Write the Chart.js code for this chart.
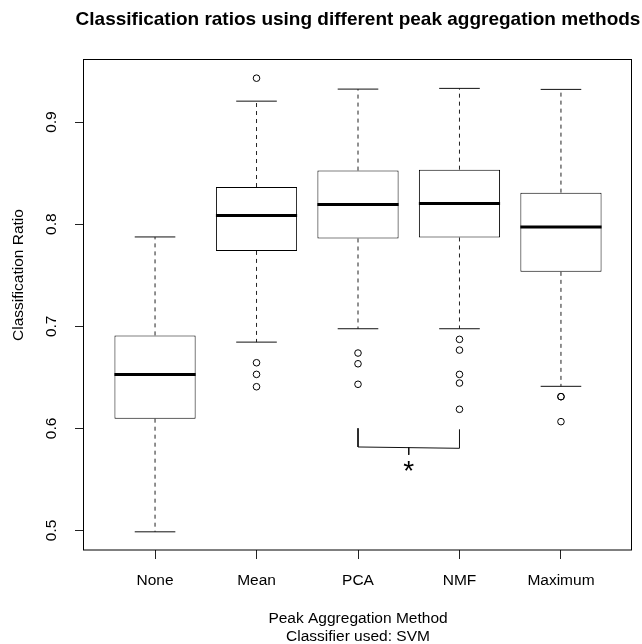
<!DOCTYPE html>
<html>
<head>
<meta charset="utf-8">
<title>Classification ratios</title>
<script src="https://cdn.jsdelivr.net/npm/chart.js@4.4.1/dist/chart.umd.min.js"></script>
<style>
  html, body { margin: 0; padding: 0; background: #fff; }
  #wrap { width: 642px; height: 644px; }
</style>
</head>
<body>
<div id="wrap"><canvas id="chart-ratio" width="642" height="644"></canvas></div>
<script>
  "use strict";

  // 5 aggregation methods, boxplot statistics per method
  var methods     = ['None', 'Mean', 'PCA', 'NMF', 'Maximum'];
  var whiskerLow  = [0.4987, 0.6845, 0.6976, 0.6976, 0.6412];
  var quartile1   = [0.6095, 0.7738, 0.7860, 0.7870, 0.7533];
  var medians     = [0.6529, 0.8085, 0.8192, 0.8202, 0.7973];
  var quartile3   = [0.6911, 0.8364, 0.8525, 0.8534, 0.8309];
  var whiskerHigh = [0.7875, 0.9205, 0.9323, 0.9330, 0.9320];
  var outliers = [
    [],
    [0.9430, 0.6643, 0.6529, 0.6408],
    [0.6738, 0.6633, 0.6432],
    [0.6872, 0.6767, 0.6529, 0.6444, 0.6187],
    [0.6311, 0.6311, 0.6066]
  ];

  var yTicks = [0.5, 0.6, 0.7, 0.8, 0.9];
  var yRange = [0.4809, 0.9608];
  var xRange = [0.3, 5.7];

  // PCA vs NMF significance bracket
  var bracketX = [3, 3, 4, 4];
  var bracketY = [0.6001, 0.5818, 0.5805, 0.5991];
  var bracketTickX = [3.5, 3.5];
  var bracketTickY = [0.5816, 0.5741];
  var starAt = [3.5, 0.5658];

  var FONT = '"Liberation Sans", Arial, Helvetica, sans-serif';
  var FS = 15.5;

  function boxPoints(list) {
    return list.map(function(v, i) { return { x: i + 1, y: v }; });
  }

  var boxData = methods.map(function(m, i) {
    return { x: i + 1, y: [quartile1[i], quartile3[i]] };
  });

  // dashed whiskers, broken with null points between segments
  var whiskerData = [];
  methods.forEach(function(m, i) {
    whiskerData.push({ x: i + 1, y: quartile3[i] }, { x: i + 1, y: whiskerHigh[i] }, { x: i + 1, y: null });
    whiskerData.push({ x: i + 1, y: quartile1[i] }, { x: i + 1, y: whiskerLow[i] }, { x: i + 1, y: null });
  });

  var capData = boxPoints(whiskerLow).concat(boxPoints(whiskerHigh));

  var outlierData = [];
  outliers.forEach(function(list, i) {
    list.forEach(function(v) { outlierData.push({ x: i + 1, y: v }); });
  });

  var bracketData = bracketX.map(function(x, i) { return { x: x, y: bracketY[i] }; });
  bracketData.push({ x: bracketTickX[0], y: null });
  bracketTickX.forEach(function(x, i) { bracketData.push({ x: x, y: bracketTickY[i] }); });

  // frame, axis labels (R style), titles and the star
  var framePlugin = {
    id: 'frame',
    afterDraw: function(chart) {
      var ctx = chart.ctx;
      var a = chart.chartArea;
      var ys = chart.scales.y;
      var xs = chart.scales.x;
      ctx.save();
      ctx.strokeStyle = '#000';
      ctx.lineWidth = 1;
      ctx.strokeRect(a.left - 0.5, a.top - 0.5, a.right - a.left, a.bottom - a.top + 0.5);

      ctx.fillStyle = '#000';
      ctx.font = FS + 'px ' + FONT;
      ctx.textAlign = 'center';
      ctx.textBaseline = 'alphabetic';

      methods.forEach(function(m, i) {
        ctx.fillText(m, xs.getPixelForValue(i + 1), a.bottom + 35);
      });

      yTicks.forEach(function(v) {
        ctx.save();
        ctx.translate(a.left - 28.5, ys.getPixelForValue(v));
        ctx.rotate(-Math.PI / 2);
        ctx.fillText(v.toFixed(1), 0, 0);
        ctx.restore();
      });

      ctx.save();
      ctx.translate(22.5, 275);
      ctx.rotate(-Math.PI / 2);
      ctx.fillText('Classification Ratio', 0, 0);
      ctx.restore();

      ctx.font = 'bold 19px ' + FONT;
      ctx.fillText('Classification ratios using different peak aggregation methods', (a.left + a.right) / 2, 25);

      var starSize = 28;
      ctx.font = starSize + 'px ' + FONT;
      ctx.fillText('*', xs.getPixelForValue(starAt[0]), ys.getPixelForValue(starAt[1]) + 0.58 * starSize);
      ctx.restore();
    }
  };

  new Chart(document.getElementById('chart-ratio'), {
    type: 'bar',
    data: {
      datasets: [
        {
          type: 'scatter', data: boxPoints(medians),
          pointStyle: 'line', pointRadius: 40.6, pointBorderWidth: 3,
          borderColor: '#000', backgroundColor: '#000'
        },
        {
          type: 'scatter', data: capData,
          pointStyle: 'line', pointRadius: 20.3, pointBorderWidth: 1,
          borderColor: '#111', backgroundColor: '#111'
        },
        {
          type: 'scatter', data: outlierData,
          pointStyle: 'circle', pointRadius: 3.3, pointBorderWidth: 1,
          borderColor: '#000', backgroundColor: 'rgba(0,0,0,0)'
        },
        {
          type: 'line', data: whiskerData,
          borderColor: '#222', borderWidth: 1, borderDash: [4, 4],
          pointRadius: 0, spanGaps: false, fill: false
        },
        {
          type: 'line', data: bracketData,
          borderColor: '#111', borderWidth: 1,
          pointRadius: 0, spanGaps: false, fill: false
        },
        {
          type: 'bar', data: boxData,
          backgroundColor: '#fff', borderColor: '#000', borderWidth: 1,
          borderSkipped: false, categoryPercentage: 1, barPercentage: 0.8
        }
      ]
    },
    options: {
      responsive: false,
      animation: false,
      devicePixelRatio: 1,
      events: [],
      layout: { autoPadding: false, padding: { top: 60, right: 10, left: 0, bottom: 0 } },
      plugins: {
        legend: { display: false },
        tooltip: { enabled: false },
        title: { display: false }
      },
      scales: {
        x: {
          type: 'linear',
          min: xRange[0], max: xRange[1],
          offset: false,
          afterBuildTicks: function(scale) {
            scale.ticks = methods.map(function(m, i) { return { value: i + 1 }; });
          },
          afterFit: function(scale) { scale.height = 94; },
          grid: { display: true, offset: false, drawOnChartArea: false, drawTicks: true, tickLength: 9, color: '#222', lineWidth: 1 },
          border: { display: false },
          ticks: { display: false },
          title: {
            display: true,
            text: ['Peak Aggregation Method', 'Classifier used: SVM'],
            color: '#000',
            font: { family: FONT, size: FS, lineHeight: 1.2 },
            padding: { top: 0, bottom: -2.4 }
          }
        },
        y: {
          type: 'linear',
          min: yRange[0], max: yRange[1],
          afterBuildTicks: function(scale) {
            scale.ticks = yTicks.map(function(v) { return { value: v }; });
          },
          afterFit: function(scale) { scale.width = 84; },
          grid: { display: true, drawOnChartArea: false, drawTicks: true, tickLength: 9, color: '#222', lineWidth: 1 },
          border: { display: false },
          ticks: { display: false }
        }
      }
    },
    plugins: [framePlugin]
  });
</script>
</body>
</html>
